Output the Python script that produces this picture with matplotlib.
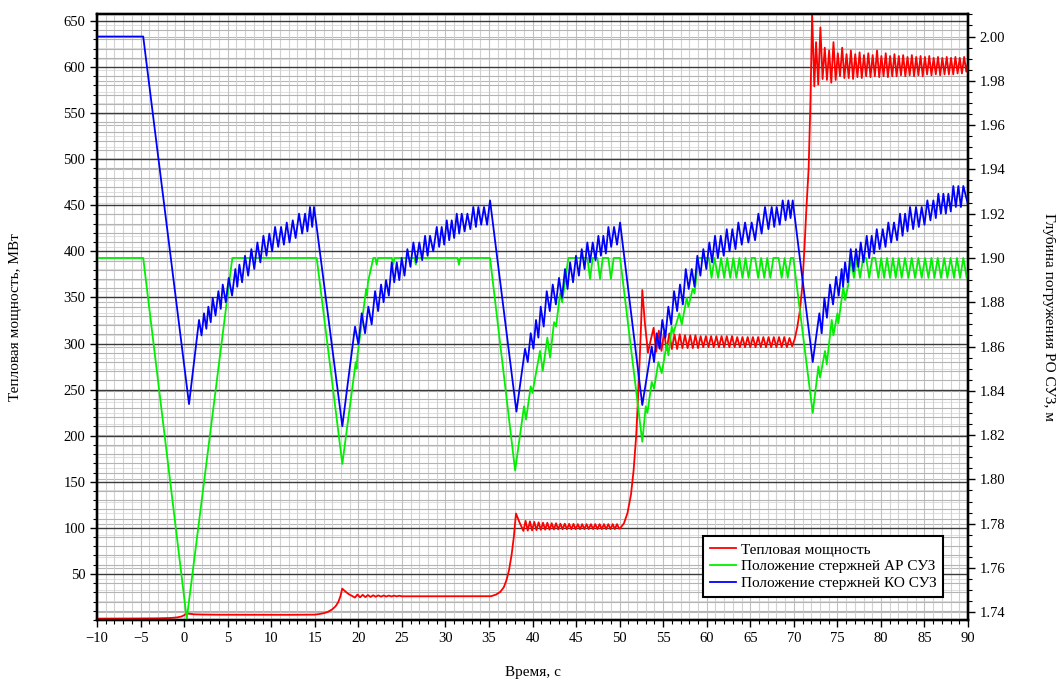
import numpy as np
import matplotlib
matplotlib.use( 'Agg' )
import matplotlib.pyplot as plt
from matplotlib.ticker import MultipleLocator, FormatStrFormatter

plt.rcParams['font.family'] = ['Liberation Serif', 'DejaVu Serif']

#################### Data ####################
# thermal power, MW (left axis) -> (time s, MW)
power_a = [ (-10, 1.5), (-6, 1.6), (-3, 1.8), (-1.5, 2.2), (-0.8, 2.8), (-0.3, 3.8), (0.0, 5.2), (0.3, 7.0),
            (0.7, 6.6), (1.2, 6.1), (2.0, 5.9), (4.0, 5.7), (8.0, 5.6), (12.0, 5.6), (15.0, 5.8) ]
power_b = [ (15.5, 6.4), (16.0, 7.3), (16.5, 8.8), (17.0, 11.5), (17.4, 15.0), (17.7, 19.5), (17.95, 26.0), (18.15, 34.0),
            (18.5, 31.0), (18.9, 28.0), (19.3, 26.0), (19.6, 24.3), (19.9, 27.6), (20.2, 24.6), (20.5, 27.3), (20.8, 24.8),
            (21.1, 27.0), (21.4, 25.0), (21.7, 26.8), (22.0, 25.2), (22.3, 26.7), (22.6, 25.3), (22.9, 26.6), (23.2, 25.4),
            (23.5, 26.5), (23.8, 25.5), (24.1, 26.4), (24.4, 25.6), (24.7, 26.3), (25.0, 25.7), (35.2, 25.8) ]
power_c = [ (35.3, 26.0), (35.8, 27.5), (36.3, 30.5), (36.7, 35.5), (37.0, 43.0), (37.3, 54.0), (37.6, 71.0), (37.85, 90.0),
            (38.1, 115.5), (38.5, 106.0), (38.95, 96.7), (39.2, 107.5), (39.45, 97.0), (39.7, 107.0), (39.95, 97.2),
            (40.2, 106.5), (40.45, 97.5), (40.7, 106.0), (40.95, 97.8), (41.2, 105.5), (41.45, 98.0), (41.7, 105.5),
            (41.95, 98.0), (42.2, 105.0), (42.45, 98.2), (42.7, 105.0), (42.95, 98.3), (43.2, 104.5), (43.45, 98.4),
            (43.7, 104.5), (43.95, 98.5), (44.2, 104.3), (44.45, 98.5), (44.7, 104.3), (44.95, 98.5), (45.2, 104.0),
            (45.45, 98.5), (45.7, 104.0), (45.95, 98.6), (46.2, 104.0), (46.45, 98.6), (46.7, 104.0), (46.95, 98.6),
            (47.2, 104.0), (47.45, 98.6), (47.7, 104.0), (47.95, 98.6), (48.2, 104.0), (48.45, 98.6), (48.7, 104.0),
            (48.95, 98.6), (49.2, 104.0), (49.45, 98.6), (49.7, 104.0), (49.95, 99.0), (50.1, 100.0) ]
power_d = [ (50.5, 105), (50.9, 116), (51.3, 136), (51.6, 162), (51.9, 200), (52.2, 258), (52.45, 318), (52.6, 358),
            (52.9, 322), (53.25, 290), (53.6, 305), (53.9, 317), (54.2, 291), (54.5, 314), (54.8, 292), (55.1, 312),
            (55.4, 293), (55.7, 311), (56.0, 294), (56.3, 310), (56.6, 294), (56.9, 310), (57.2, 295), (57.5, 309),
            (57.8, 295), (58.1, 309), (58.4, 295), (58.7, 309), (59.0, 295), (59.3, 308), (59.6, 296), (59.9, 308),
            (60.2, 296), (60.5, 308), (60.8, 296), (61.1, 308), (61.4, 296), (61.7, 308), (62.0, 296), (62.3, 308),
            (62.6, 296), (62.9, 308), (63.2, 296), (63.5, 307), (63.8, 296), (64.1, 307), (64.4, 296), (64.7, 307),
            (65.0, 296), (65.3, 307), (65.6, 296), (65.9, 307), (66.2, 296), (66.5, 307), (66.8, 296), (67.1, 307),
            (67.4, 296), (67.7, 307), (68.0, 296), (68.3, 307), (68.6, 296), (68.9, 307), (69.2, 296), (69.5, 306),
            (69.8, 297) ]
power_e = [ (70.1, 305), (70.4, 318), (70.7, 336), (70.95, 360), (71.2, 400), (71.45, 448), (71.7, 490), (71.9, 560),
            (72.1, 657), (72.35, 579), (72.55, 627), (72.8, 581), (73.05, 643), (73.3, 587), (73.55, 621), (73.8, 586),
            (74.05, 618), (74.3, 583), (74.55, 627), (74.8, 586), (75.05, 615), (75.3, 590), (75.55, 621), (75.8, 588),
            (76.05, 614), (76.3, 588), (76.55, 618), (76.8, 587), (77.05, 614), (77.3, 589), (77.55, 616), (77.8, 588),
            (78.05, 613), (78.3, 590), (78.55, 615), (78.8, 589), (79.05, 613), (79.3, 590), (79.55, 618), (79.8, 589),
            (80.05, 612), (80.3, 590), (80.55, 615), (80.8, 589), (81.05, 612), (81.3, 590), (81.55, 614), (81.8, 590),
            (82.05, 612), (82.3, 591), (82.55, 613), (82.8, 590), (83.05, 611), (83.3, 591), (83.55, 613), (83.8, 590),
            (84.05, 611), (84.3, 591), (84.55, 612), (84.8, 590), (85.05, 611), (85.3, 592), (85.55, 612), (85.8, 591),
            (86.05, 610), (86.3, 592), (86.55, 611), (86.8, 591), (87.05, 610), (87.3, 592), (87.55, 611), (87.8, 592),
            (88.05, 610), (88.3, 592), (88.55, 611), (88.8, 593), (89.05, 610), (89.3, 593), (89.55, 611), (89.8, 595),
            (90.0, 606) ]

# КО rods depth, m (right axis)
ko_a = [ (-10, 2.000), (-4.7, 2.000), (0.56, 1.834), (1.71, 1.872) ]
ko_1 = [ (2.00, 1.865), (2.28, 1.875), (2.55, 1.868), (2.78, 1.878), (3.05, 1.871), (3.28, 1.882), (3.60, 1.874),
         (3.93, 1.885), (4.20, 1.877), (4.43, 1.888), (4.78, 1.880), (5.12, 1.891), (5.50, 1.883), (5.88, 1.895),
         (6.10, 1.887), (6.34, 1.897), (6.65, 1.889), (6.99, 1.901), (7.35, 1.892), (7.72, 1.904), (8.05, 1.895),
         (8.41, 1.907), (8.75, 1.898), (9.10, 1.910), (9.45, 1.901), (9.78, 1.911), (10.10, 1.903), (10.44, 1.914),
         (10.80, 1.905), (11.13, 1.914), (11.45, 1.906), (11.78, 1.916), (12.10, 1.907), (12.47, 1.917), (12.80, 1.909),
         (13.19, 1.920), (13.55, 1.911), (13.88, 1.920), (14.15, 1.912), (14.45, 1.923), (14.70, 1.914), (14.91, 1.923),
         (15.15, 1.916), (18.16, 1.824) ]
ko_2 = [ (19.62, 1.869), (20.0, 1.861), (20.39, 1.875), (20.77, 1.866), (21.15, 1.878), (21.53, 1.870), (21.92, 1.885),
         (22.27, 1.876), (22.61, 1.888), (22.9, 1.880), (23.18, 1.890), (23.5, 1.883), (23.83, 1.898), (24.12, 1.889),
         (24.41, 1.898), (24.7, 1.890), (24.98, 1.900), (25.3, 1.892), (25.63, 1.904), (25.98, 1.896), (26.32, 1.907),
         (26.66, 1.898), (27.00, 1.907), (27.33, 1.899), (27.66, 1.910), (27.95, 1.901), (28.23, 1.910), (28.6, 1.903),
         (29.00, 1.914), (29.28, 1.905), (29.57, 1.914), (29.86, 1.906), (30.15, 1.917), (30.43, 1.908), (30.72, 1.917),
         (31.0, 1.909), (31.30, 1.920), (31.58, 1.911), (31.87, 1.920), (32.2, 1.912), (32.52, 1.920), (32.86, 1.913),
         (33.20, 1.923), (33.5, 1.914), (33.78, 1.923), (34.1, 1.915), (34.43, 1.923), (34.78, 1.915), (35.12, 1.926),
         (38.15, 1.8306) ]
ko_3 = [ (39.14, 1.859), (39.45, 1.853), (39.79, 1.866), (40.1, 1.859), (40.40, 1.872), (40.67, 1.864), (40.94, 1.878),
         (41.28, 1.869), (41.63, 1.885), (41.98, 1.876), (42.32, 1.888), (42.68, 1.879), (43.04, 1.891), (43.38, 1.882),
         (43.73, 1.895), (44.02, 1.886), (44.31, 1.898), (44.65, 1.889), (44.99, 1.901), (45.32, 1.892), (45.65, 1.904),
         (45.97, 1.895), (46.29, 1.907), (46.6, 1.898), (46.91, 1.907), (47.23, 1.899), (47.56, 1.910), (47.85, 1.901),
         (48.13, 1.910), (48.42, 1.902), (48.71, 1.914), (49.03, 1.905), (49.36, 1.914), (49.7, 1.906), (50.05, 1.916),
         (52.6, 1.8336) ]
ko_4 = [ (53.68, 1.860), (53.95, 1.853), (54.26, 1.866), (54.58, 1.859), (54.90, 1.872), (55.25, 1.864), (55.59, 1.878),
         (55.92, 1.870), (56.25, 1.885), (56.6, 1.876), (56.93, 1.888), (57.26, 1.879), (57.59, 1.895), (57.93, 1.886),
         (58.28, 1.895), (58.6, 1.887), (58.92, 1.901), (59.27, 1.892), (59.61, 1.904), (59.95, 1.895), (60.30, 1.907),
         (60.62, 1.898), (60.95, 1.910), (61.28, 1.900), (61.61, 1.910), (61.95, 1.901), (62.30, 1.913), (62.62, 1.903),
         (62.94, 1.913), (63.3, 1.904), (63.63, 1.916), (64.02, 1.906), (64.40, 1.916), (64.78, 1.907), (65.16, 1.916),
         (65.55, 1.908), (65.93, 1.920), (66.3, 1.911), (66.69, 1.923), (67.08, 1.913), (67.46, 1.923), (67.75, 1.914),
         (68.03, 1.923), (68.38, 1.915), (68.72, 1.926), (69.05, 1.917), (69.37, 1.926), (69.62, 1.918), (69.87, 1.926),
         (72.17, 1.853) ]
ko_5 = [ (72.93, 1.875), (73.2, 1.866), (73.51, 1.882), (73.8, 1.873), (74.15, 1.888), (74.5, 1.879), (74.85, 1.8915),
         (75.15, 1.883), (75.49, 1.895), (75.65, 1.887), (75.88, 1.898), (76.2, 1.889), (76.53, 1.904), (76.85, 1.894),
         (77.14, 1.904), (77.4, 1.896), (77.68, 1.907), (78.0, 1.898), (78.37, 1.910), (78.65, 1.900), (78.94, 1.910),
         (79.22, 1.902), (79.52, 1.913), (79.85, 1.904), (80.21, 1.913), (80.52, 1.905), (80.85, 1.916), (81.17, 1.907),
         (81.50, 1.916), (81.85, 1.908), (82.19, 1.920), (82.48, 1.910), (82.77, 1.920), (83.05, 1.912), (83.34, 1.923),
         (83.7, 1.913), (84.03, 1.923), (84.35, 1.914), (84.68, 1.923), (85.0, 1.915), (85.33, 1.926), (85.68, 1.917),
         (86.02, 1.926), (86.3, 1.918), (86.59, 1.929), (86.88, 1.920), (87.17, 1.929), (87.45, 1.920), (87.74, 1.929),
         (88.02, 1.921), (88.31, 1.9325), (88.6, 1.923), (88.89, 1.9325), (89.18, 1.923), (89.46, 1.9325), (90.0, 1.924) ]

# АР rods depth, m (right axis)
ar_a = [ (-10, 1.900), (-4.7, 1.900), (0.30, 1.737), (5.53, 1.900), (15.22, 1.900), (18.16, 1.807) ]
ar_b = [ (19.7, 1.853), (19.8, 1.850), (19.9, 1.856), (20.9, 1.886), (21.0, 1.883), (21.1, 1.889), (21.72, 1.900),
         (21.95, 1.900), (22.1, 1.897), (22.25, 1.900), (23.85, 1.900), (24.0, 1.897), (24.15, 1.900), (26.45, 1.900),
         (26.6, 1.897), (26.75, 1.900), (31.4, 1.900), (31.55, 1.897), (31.7, 1.900), (35.12, 1.900), (38.0, 1.804) ]
ar_c = [ (39.02, 1.833), (39.25, 1.827), (39.79, 1.842), (39.98, 1.839), (40.86, 1.858), (41.17, 1.849), (41.70, 1.864),
         (42.01, 1.855), (42.47, 1.871), (42.70, 1.869), (43.16, 1.884), (43.4, 1.880), (44.11, 1.900), (46.3, 1.900),
         (46.6, 1.8905), (46.9, 1.900), (47.45, 1.900), (47.75, 1.8905), (48.06, 1.900), (48.7, 1.900), (49.0, 1.8905),
         (49.32, 1.900), (50.05, 1.900), (52.6, 1.817) ]
ar_d = [ (53.0, 1.833), (53.19, 1.830), (53.68, 1.844), (53.95, 1.841), (54.45, 1.853), (54.83, 1.848), (55.4, 1.861),
         (55.6, 1.856), (55.98, 1.869), (56.17, 1.866), (56.85, 1.875), (57.13, 1.870), (57.7, 1.882), (57.89, 1.878),
         (58.39, 1.886), (58.6, 1.884), (59.04, 1.900), (60.25, 1.900), (60.55, 1.891), (60.9, 1.900), (61.3, 1.891),
         (61.65, 1.900), (62.0, 1.891), (62.35, 1.900), (62.7, 1.891), (63.05, 1.900), (63.4, 1.891), (63.75, 1.900),
         (64.1, 1.891), (64.45, 1.900), (64.8, 1.891), (65.15, 1.900), (65.55, 1.900), (65.9, 1.891), (66.25, 1.900),
         (66.6, 1.891), (66.95, 1.900), (67.3, 1.891), (67.65, 1.900), (68.25, 1.900), (68.6, 1.891), (68.95, 1.900),
         (69.3, 1.891), (69.65, 1.900), (69.94, 1.900), (72.17, 1.830) ]
ar_e = [ (72.82, 1.851), (73.01, 1.846), (73.58, 1.858), (73.78, 1.852), (74.35, 1.872), (74.54, 1.865), (75.0, 1.875),
         (75.11, 1.8705), (75.68, 1.887), (75.88, 1.881), (76.26, 1.888), (76.53, 1.900), (76.9, 1.891), (77.25, 1.900),
         (77.6, 1.891), (77.95, 1.900), (78.3, 1.900), (78.65, 1.891), (79.0, 1.900), (79.35, 1.900), (79.7, 1.891),
         (80.03, 1.900), (80.36, 1.891), (80.7, 1.900), (81.05, 1.891), (81.38, 1.900), (81.7, 1.891), (82.04, 1.900),
         (82.38, 1.891), (82.76, 1.900), (83.15, 1.891), (83.53, 1.900), (83.92, 1.891), (84.3, 1.900), (84.68, 1.891),
         (85.06, 1.900), (85.45, 1.891), (85.8, 1.900), (86.14, 1.891), (86.52, 1.900), (86.9, 1.891), (87.27, 1.900),
         (87.63, 1.891), (88.0, 1.900), (88.39, 1.891), (88.73, 1.900), (89.08, 1.891), (89.46, 1.900), (89.85, 1.891),
         (90.0, 1.895) ]

power = np.array( power_a + power_b + power_c + power_d + power_e )
ko = np.array( ko_a + ko_1 + ko_2 + ko_3 + ko_4 + ko_5 )
ar = np.array( ar_a + ar_b + ar_c + ar_d + ar_e )

labels = [ 'Тепловая мощность', 'Положение стержней АР СУЗ', 'Положение стержней КО СУЗ' ]

#################### Figure ####################
fig = plt.figure( figsize = ( 10.56, 6.84 ), dpi = 100 )
rect = [ 0.0919, 0.0936, 0.8248, 0.886 ]
ax = fig.add_axes( rect )
axg = ax.twinx()   # only for the right axis grid, drawn at the bottom
ax2 = ax.twinx()

axg.set_zorder( 0 )
ax.set_zorder( 1 )
ax2.set_zorder( 2 )
ax.patch.set_visible( False )

ax.set_xlim( -10, 90 )
ax.set_ylim( 0, 657.6 )
r_lim = ( 1.7365, 2.0102 )
ax2.set_ylim( r_lim )
axg.set_ylim( r_lim )

#Ticks
ax.set_xticks( np.arange( -10, 91, 5 ) )
ax.xaxis.set_minor_locator( MultipleLocator( 1 ) )
ax.set_yticks( np.arange( 50, 651, 50 ) )
ax.yaxis.set_minor_locator( MultipleLocator( 10 ) )
for a in ( ax2, axg ):
    a.set_yticks( np.arange( 1.74, 2.001, 0.02 ) )
    a.yaxis.set_minor_locator( MultipleLocator( 0.005 ) )
ax2.yaxis.set_major_formatter( FormatStrFormatter( '%.2f' ) )

for a in ( ax, ax2 ):
    a.tick_params( which = 'major', direction = 'out', length = 5, width = 1, labelsize = 10.5, colors = 'black' )
    a.tick_params( which = 'minor', direction = 'out', length = 3, width = 0.8 )
axg.tick_params( axis = 'y', which = 'both', length = 0, labelright = False, labelleft = False )

#Grid
ax.grid( which = 'minor', axis = 'x', color = '#d2d2d2', lw = 0.8 )
ax.grid( which = 'major', axis = 'x', color = '#c0c0c0', lw = 0.8 )
ax.grid( which = 'minor', axis = 'y', color = '#b4b4b4', lw = 0.8 )
ax.grid( which = 'major', axis = 'y', color = '#3a3a3a', lw = 1.0 )
axg.grid( which = 'minor', axis = 'y', color = '#dedede', lw = 0.7 )
axg.grid( which = 'major', axis = 'y', color = '#b8b8b8', lw = 0.8 )
ax.set_axisbelow( True )

for a in ( ax, ax2, axg ):
    for s in a.spines.values():
        s.set_linewidth( 1.6 )
        s.set_color( 'black' )

#Lines
l1, = ax.plot( power[:, 0], power[:, 1], color = '#ff0000', lw = 1.3 )
l2, = ax2.plot( ar[:, 0], ar[:, 1], color = '#00f000', lw = 1.3 )
l3, = ax2.plot( ko[:, 0], ko[:, 1], color = '#0000ff', lw = 1.3 )

ax.set_xlabel( 'Время, с', fontsize = 11, labelpad = 15 )
ax.set_ylabel( 'Тепловая мощность, МВт', fontsize = 11, labelpad = 30 )
ax2.set_ylabel( 'Глубина погружения РО СУЗ, м', fontsize = 11, labelpad = 26, rotation = 270, va = 'bottom' )

leg = ax2.legend( [ l1, l2, l3 ], labels, loc = 'lower left', bbox_to_anchor = ( 0.696, 0.038 ), borderaxespad = 0,
                  fontsize = 11, frameon = True, fancybox = False, handlelength = 1.7, handletextpad = 0.3,
                  borderpad = 0.45, labelspacing = 0.2 )
leg.get_frame().set_edgecolor( 'black' )
leg.get_frame().set_linewidth( 1.5 )
leg.get_frame().set_alpha( 1 )

fig.savefig( 'out.png', dpi = 100 )
